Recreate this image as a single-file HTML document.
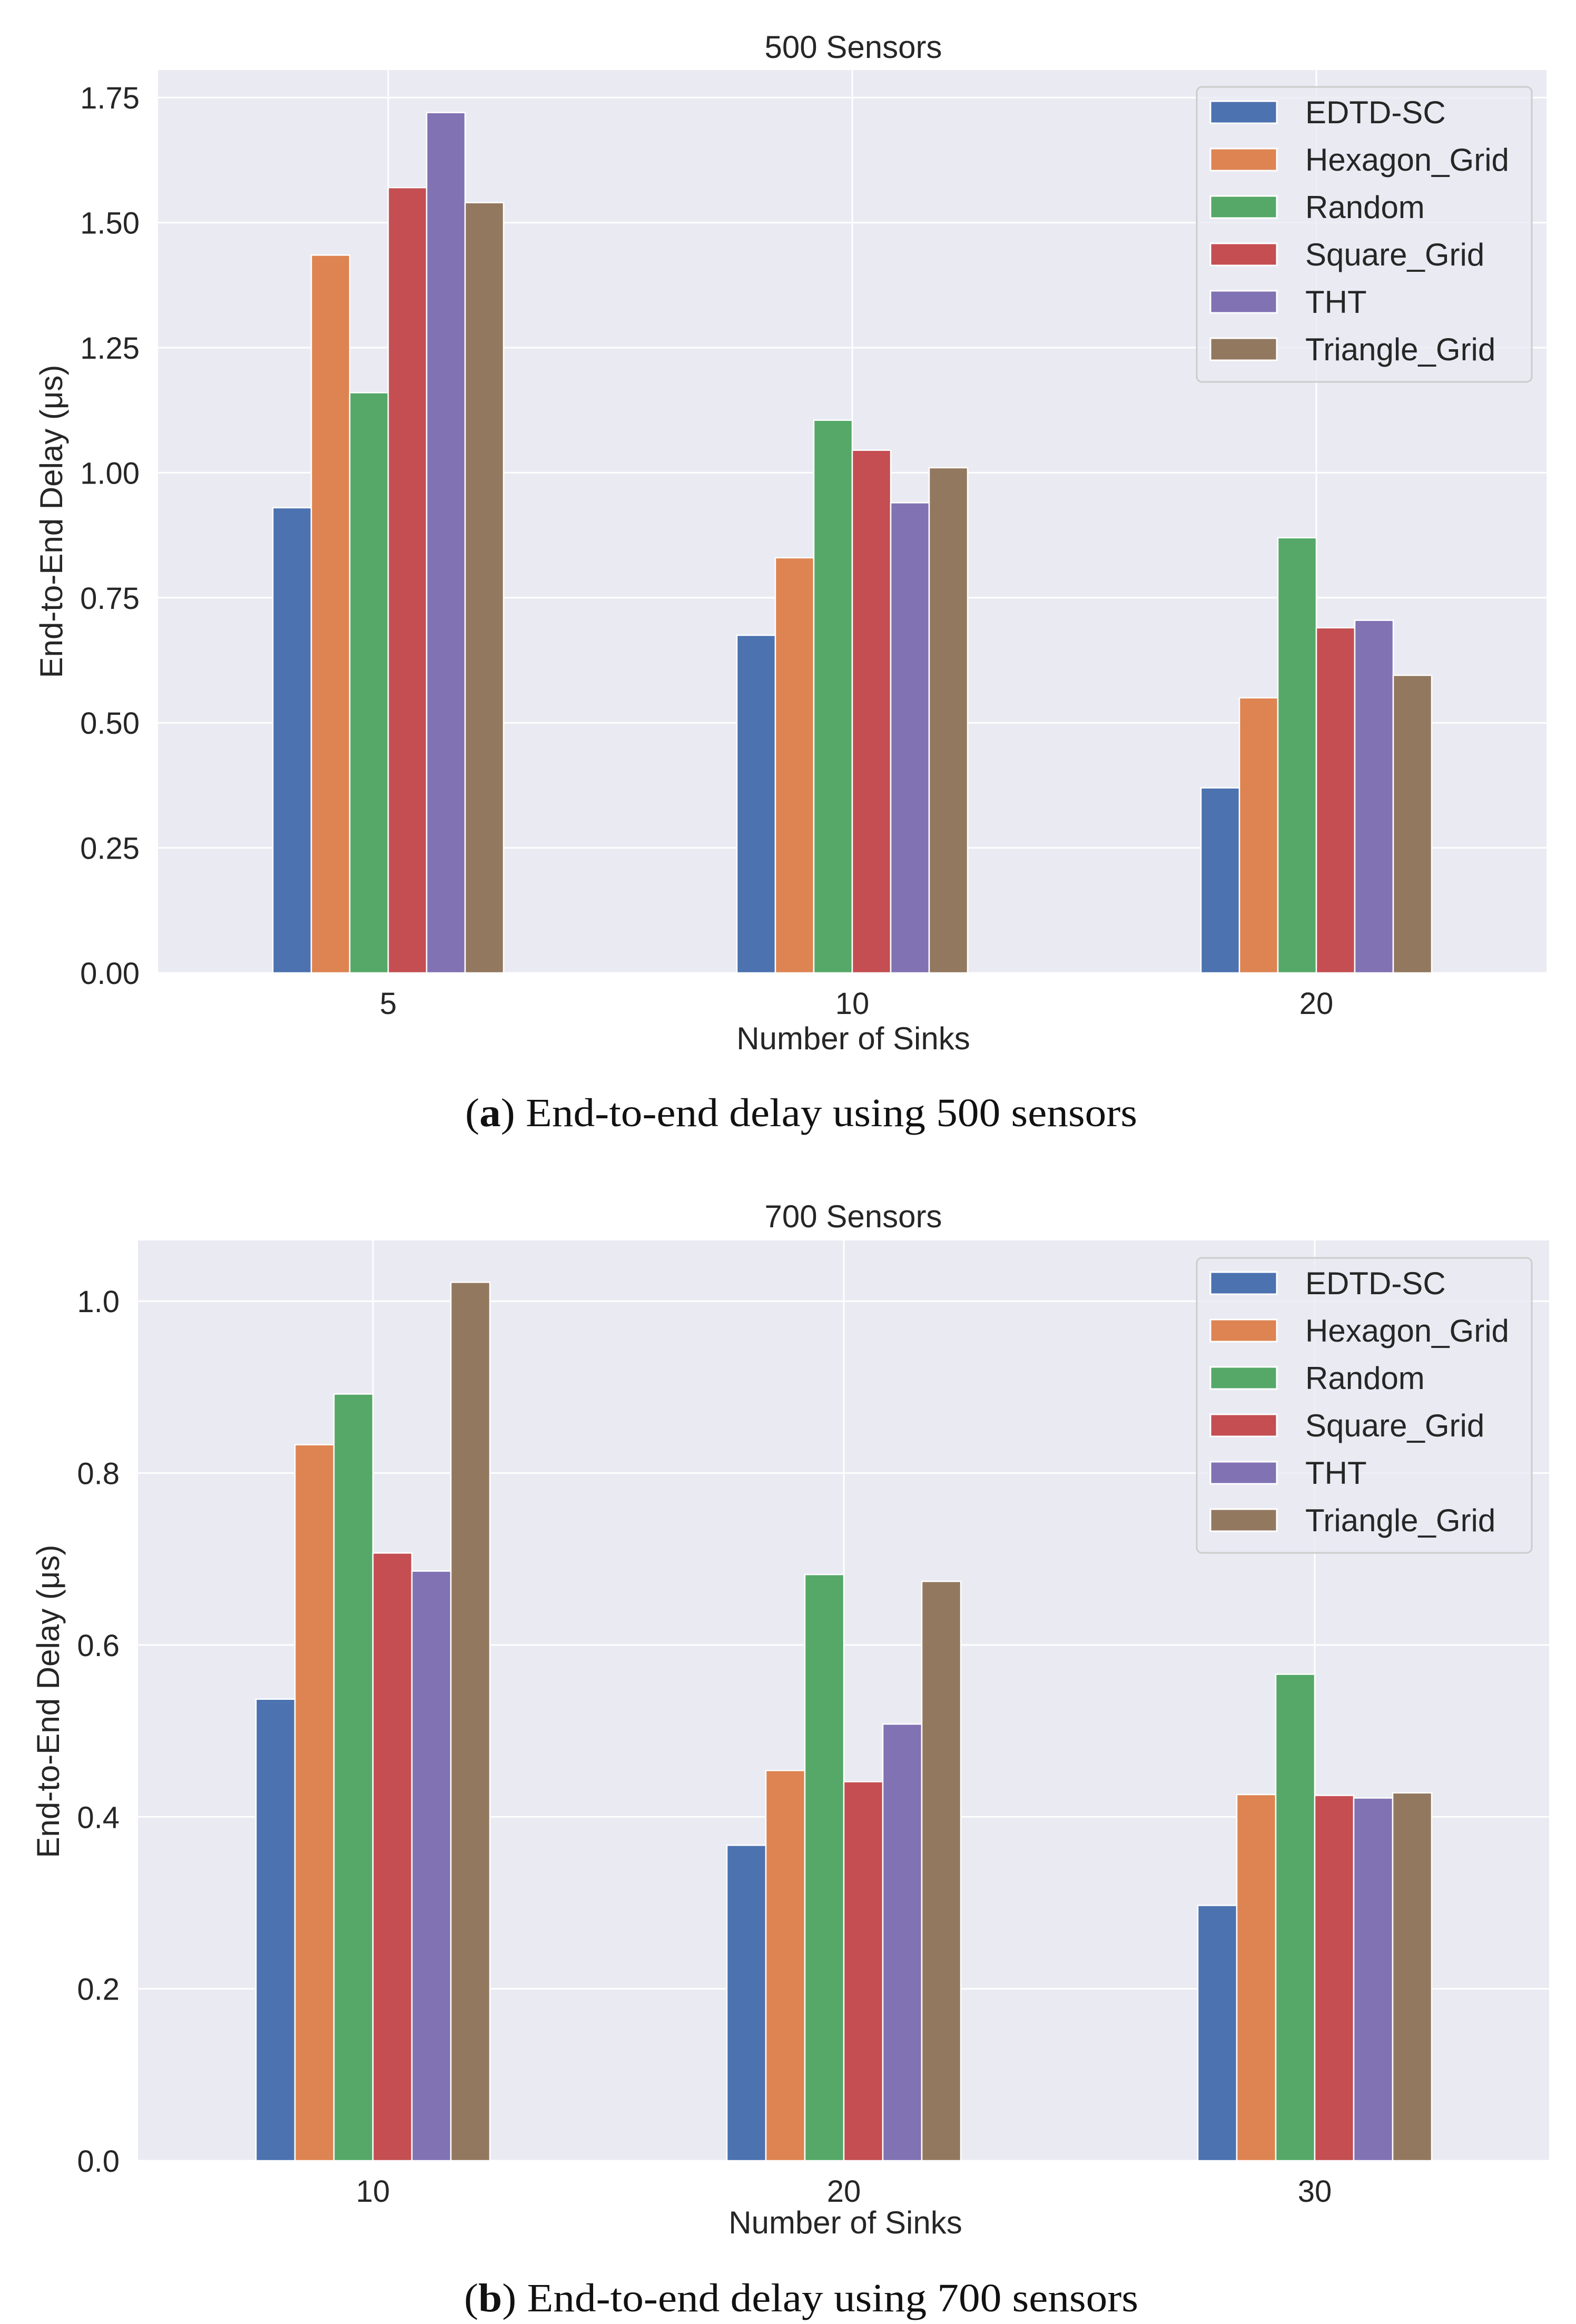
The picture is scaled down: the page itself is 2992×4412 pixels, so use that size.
<!DOCTYPE html>
<html><head><meta charset="utf-8">
<style>
html,body{margin:0;padding:0;background:#fff;}
svg{display:block;font-family:"Liberation Sans",sans-serif;}
</style></head>
<body>
<svg id="fig" width="2992" height="4412" viewBox="0 0 2992 4412" xmlns="http://www.w3.org/2000/svg">
<text x="1620" y="110" font-size="60" text-anchor="middle" fill="#262626">500 Sensors</text>
<text x="1620" y="2330" font-size="60" text-anchor="middle" fill="#262626">700 Sensors</text>
<text x="1620" y="1992" font-size="60" text-anchor="middle" fill="#262626">Number of Sinks</text>
<text x="1605" y="4240" font-size="60" text-anchor="middle" fill="#262626">Number of Sinks</text>
<text transform="translate(118,990) rotate(-90)" font-size="60" text-anchor="middle" fill="#262626">End-to-End Delay (μs)</text>
<text transform="translate(112,3230) rotate(-90)" font-size="60" text-anchor="middle" fill="#262626">End-to-End Delay (μs)</text>
<text x="1521" y="2138" font-size="76" text-anchor="middle" textLength="1276" lengthAdjust="spacingAndGlyphs" fill="#111" font-family="Liberation Serif,serif">(<tspan font-weight="bold">a</tspan>) End-to-end delay using 500 sensors</text>
<text x="1521" y="4388" font-size="76" text-anchor="middle" textLength="1280" lengthAdjust="spacingAndGlyphs" fill="#111" font-family="Liberation Serif,serif">(<tspan font-weight="bold">b</tspan>) End-to-end delay using 700 sensors</text>
<g id="ca"></g><g id="cb"></g>
</svg>
<script>
const seriesNames = ["EDTD-SC","Hexagon_Grid","Random","Square_Grid","THT","Triangle_Grid"];
const colors = ["#4c72b0","#dd8452","#55a868","#c44e52","#8172b3","#937860"];
const catsA = ["5","10","20"];
const edtdA = [0.93,0.675,0.37];
const hexA = [1.435,0.83,0.55];
const randA = [1.16,1.105,0.87];
const sqA = [1.57,1.045,0.69];
const thtA = [1.72,0.94,0.705];
const triA = [1.54,1.01,0.595];
const ticksA = ["0.00","0.25","0.50","0.75","1.00","1.25","1.50","1.75"];
const catsB = ["10","20","30"];
const edtdB = [0.537,0.367,0.297];
const hexB = [0.833,0.454,0.426];
const randB = [0.892,0.682,0.566];
const sqB = [0.707,0.441,0.425];
const thtB = [0.686,0.508,0.422];
const triB = [1.022,0.674,0.428];
const ticksB = ["0.0","0.2","0.4","0.6","0.8","1.0"];
const NS="http://www.w3.org/2000/svg";
function mk(parent,tag,attrs){const e=document.createElementNS(NS,tag);for(const k in attrs)e.setAttribute(k,attrs[k]);parent.appendChild(e);return e;}
function draw(gid,cfg,cats,series,ticks,prefix){
  const g=document.getElementById(gid);
  const yS=v=>cfg.bottom-(v/cfg.ymax)*(cfg.bottom-cfg.top);
  const xS=i=>cfg.x0+i*cfg.step;
  const bg=mk(g,'rect',{x:cfg.left,y:cfg.top,width:cfg.right-cfg.left,height:cfg.bottom-cfg.top,fill:'#eaeaf2'});
  
  
  ticks.forEach(t=>{
    const y=yS(parseFloat(t));
    const l=mk(g,'line',{x1:cfg.left,x2:cfg.right,y1:y,y2:y,stroke:'#fff','stroke-width':3});
    
    
    const tx=mk(g,'text',{x:cfg.left-35,y:y+21,'font-size':58,'text-anchor':'end',fill:'#262626'});
    tx.textContent=t;
    
    
  });
  cats.forEach((c,i)=>{
    const x=xS(i);
    const l=mk(g,'line',{x1:x,x2:x,y1:cfg.top,y2:cfg.bottom,stroke:'#fff','stroke-width':3});
    
    
    const tx=mk(g,'text',{x:x,y:cfg.bottom+78,'font-size':58,'text-anchor':'middle',fill:'#262626'});
    tx.textContent=c;
    
    
  });
  const bw=cfg.bw;
  series.forEach((vals,s)=>{
    vals.forEach((v,i)=>{
      const x=xS(i)-3*bw+s*bw;
      const y=yS(v);
      const r=mk(g,'rect',{x:x,y:y,width:bw,height:cfg.bottom-y,fill:colors[s],stroke:'#fff','stroke-width':2.5});
      
      
    });
  });
  const lg=mk(g,'g',{});
  
  
  const lx=cfg.lx, ly=cfg.ly;
  mk(lg,'rect',{x:lx,y:ly,width:636,height:560,rx:10,fill:'#eaeaf2','fill-opacity':0.8,stroke:'#cccccc','stroke-width':3});
  seriesNames.forEach((n,s)=>{
    const cy=ly+48+s*90;
    const p=mk(lg,'rect',{x:lx+26,y:cy-21,width:126,height:42,fill:colors[s],stroke:'#fff','stroke-width':3});
    
    
    const t=mk(lg,'text',{x:lx+206,y:cy+21,'font-size':60,fill:'#262626'});
    t.textContent=n;
    
    
  });
}
draw('ca',{left:300,right:2936,top:133,bottom:1847,ymax:1.805,x0:737,step:881,bw:73,lx:2272,ly:165},catsA,[edtdA,hexA,randA,sqA,thtA,triA],ticksA,'chart-a');
draw('cb',{left:262,right:2941,top:2355,bottom:4102,ymax:1.0706,x0:708,step:894,bw:74,lx:2272,ly:2388},catsB,[edtdB,hexB,randB,sqB,thtB,triB],ticksB,'chart-b');
</script>
</body></html>
